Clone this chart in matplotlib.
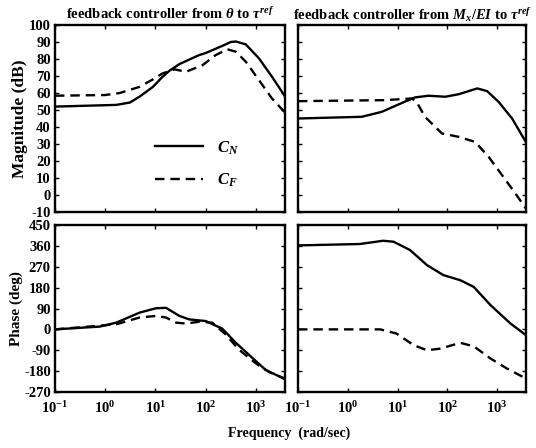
import numpy as np
import matplotlib
matplotlib.use("Agg")
import matplotlib.pyplot as plt

plt.rcParams['font.family'] = ['Liberation Serif', 'DejaVu Serif']
plt.rcParams['font.weight'] = 'bold'
plt.rcParams['axes.titleweight'] = 'bold'
plt.rcParams['axes.labelweight'] = 'bold'
plt.rcParams['axes.unicode_minus'] = False
plt.rcParams['mathtext.fontset'] = 'custom'
plt.rcParams['mathtext.rm'] = 'Liberation Serif:bold'
plt.rcParams['mathtext.it'] = 'Liberation Serif:italic:bold'
plt.rcParams['mathtext.bf'] = 'Liberation Serif:bold'

# magnitude, feedback from theta (left)
f_mag_l_cn = [0.1, 1.66, 3.1, 4.8, 8.9, 13.8, 19, 30, 74, 100, 234, 316, 400, 630, 1150, 2090, 3800]
mag_l_cn = [52, 53, 54.4, 57.8, 63.6, 69.5, 73.1, 77, 82.3, 83.5, 88.2, 90, 90.3, 88.6, 80.4, 69.6, 58]
f_mag_l_cf = [0.1, 1, 1.95, 4.8, 8.9, 13.8, 24, 40.7, 87, 158, 270, 400, 630, 1150, 2090, 3800]
mag_l_cf = [58.4, 58.8, 60, 63.6, 68, 71.5, 73.9, 72.5, 76.4, 82.3, 85.7, 84.3, 78.4, 67.6, 56.8, 48.5]

# magnitude, feedback from Mx/EI (right)
f_mag_r_cn = [0.1, 1.9, 4.8, 10.5, 22.4, 42, 91, 170, 400, 630, 1070, 2000, 3800]
mag_r_cn = [45, 46, 48.9, 53.3, 57.4, 58.4, 57.8, 59.3, 62.7, 61.1, 54.8, 45, 31]
f_mag_r_cf = [0.1, 5.6, 19.5, 24.5, 35.5, 78, 170, 363, 676, 1260, 2340, 3800]
mag_r_cf = [55.2, 55.8, 56.8, 54.4, 46, 36.2, 34.2, 31.2, 22.4, 11.6, 0.8, -8]

# phase, left
f_ph_l_cn = [0.1, 0.78, 1.66, 4.8, 10.2, 16.2, 30, 47, 100, 214, 400, 850, 1550, 3800]
ph_l_cn = [0, 12, 29, 72, 91, 93, 58, 43, 36, 3, -58, -123, -174, -215]
f_ph_l_cf = [0.1, 1.66, 4.8, 10.2, 16.2, 25.7, 40.7, 74, 135, 251, 457, 977, 1820, 3800]
ph_l_cf = [0, 22, 51, 58, 51, 29, 25, 33, 29, -22, -87, -145, -184, -212]

# phase, right
f_ph_r_cn = [0.1, 1.74, 5.1, 8.3, 17.8, 39, 83, 182, 339, 741, 1860, 3800]
ph_r_cn = [362, 368, 382, 378, 342, 277, 234, 212, 183, 104, 25, -25]
f_ph_r_cf = [0.1, 4.5, 9.5, 21, 39, 72, 182, 339, 741, 1580, 3800]
ph_r_cf = [0, 0, -18, -68, -90, -83, -58, -73, -126, -169, -212]

mag_ticks = list(range(-10, 101, 10))
ph_ticks = list(range(-270, 451, 90))

dash = (0, (4, 2.5))


def setup(ax, yticks, showlabels):
    ax.set_xscale('log')
    ax.set_xlim(0.1, 3800)
    ax.set_ylim(yticks[0], yticks[-1])
    ax.set_yticks(yticks)
    ax.set_xticks([0.1, 1, 10, 100, 1000])
    ax.minorticks_off()
    ax.tick_params(direction='in', top=True, right=True, length=3, width=1,
                   labelsize=10.5, pad=3)
    ax.tick_params(axis='x', pad=6)
    if not showlabels:
        ax.set_yticklabels([])
    for s in ax.spines.values():
        s.set_linewidth(1.7)


fig = plt.figure(figsize=(5.36, 4.48), dpi=100)
W, H = 536.0, 448.0
ax1 = fig.add_axes([55 / W, 1 - 212 / H, 230 / W, 187 / H])
ax2 = fig.add_axes([298 / W, 1 - 212 / H, 228 / W, 187 / H])
ax3 = fig.add_axes([55 / W, 1 - 392 / H, 230 / W, 167 / H])
ax4 = fig.add_axes([298 / W, 1 - 392 / H, 228 / W, 167 / H])

ax1.plot(f_mag_l_cn, mag_l_cn, 'k-', lw=1.7, label=r'$C_N$')
ax1.plot(f_mag_l_cf, mag_l_cf, 'k', ls=dash, lw=1.7, label=r'$C_F$')
ax2.plot(f_mag_r_cn, mag_r_cn, 'k-', lw=1.7)
ax2.plot(f_mag_r_cf, mag_r_cf, 'k', ls=dash, lw=1.7)
ax3.plot(f_ph_l_cn, ph_l_cn, 'k-', lw=1.7)
ax3.plot(f_ph_l_cf, ph_l_cf, 'k', ls=dash, lw=1.7)
ax4.plot(f_ph_r_cn, ph_r_cn, 'k-', lw=1.7)
ax4.plot(f_ph_r_cf, ph_r_cf, 'k', ls=dash, lw=1.7)

setup(ax1, mag_ticks, True)
setup(ax2, mag_ticks, False)
setup(ax3, ph_ticks, True)
setup(ax4, ph_ticks, False)
ax1.set_xticklabels([])
ax2.set_xticklabels([])

ax1.set_ylabel('Magnitude (dB)', fontsize=12.5, labelpad=1)
ax3.set_ylabel('Phase (deg)', fontsize=11, labelpad=1)
ax1.set_title(r'feedback controller from $\theta$ to $\tau^{ref}$', fontsize=10.5, pad=4)
ax2.set_title(r'feedback controller from $M_x/EI$ to $\tau^{ref}$', fontsize=10.5, pad=4)
fig.text(289 / W, 1 - 433 / H, 'Frequency  (rad/sec)', ha='center', va='center',
         fontsize=10, fontweight='bold')

leg = ax1.legend(loc='upper left', bbox_to_anchor=(0.37, 0.47), frameon=False,
                 handlelength=2.9, labelspacing=0.9, fontsize=12, handletextpad=0.8)

fig.savefig('out.png', dpi=100)
